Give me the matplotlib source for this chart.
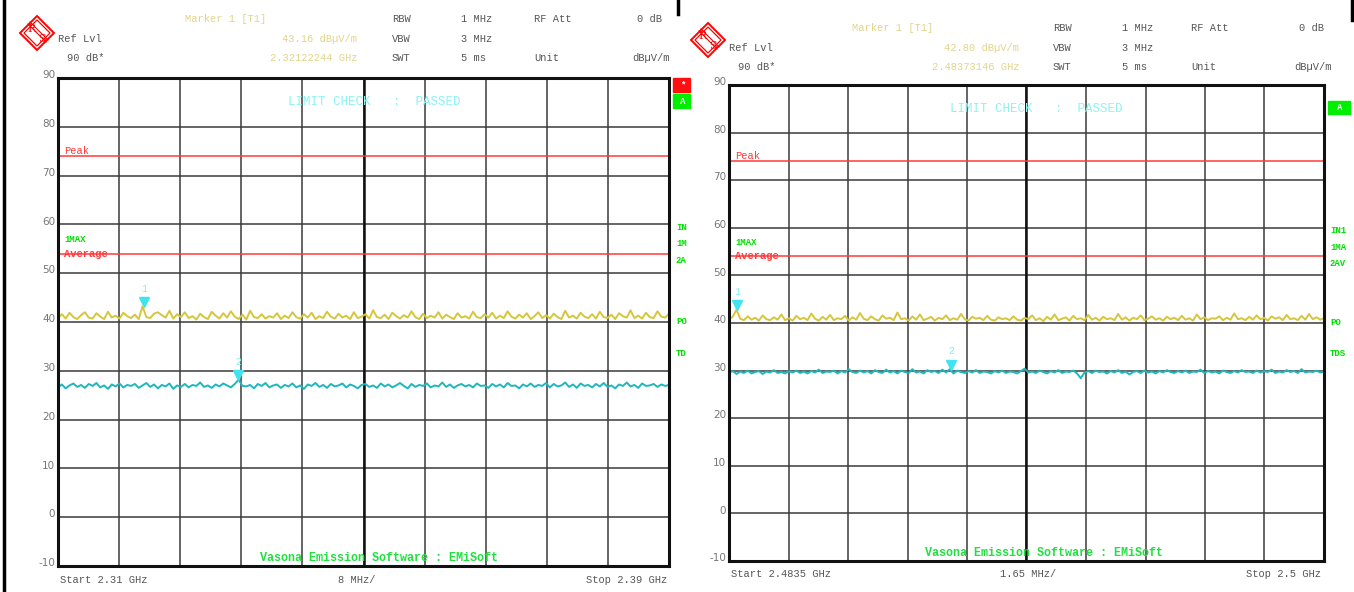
import numpy as np
import matplotlib
matplotlib.use("Agg")
import matplotlib.pyplot as plt
from matplotlib.patches import Polygon, Rectangle
from matplotlib.lines import Line2D

left_start, left_stop = 2.31, 2.39
right_start, right_stop = 2.4835, 2.5
peak_limit = 74.0
avg_limit = 54.0

left_max = [40.8, 41.6, 40.7, 41.9, 41.0, 40.6, 41.4, 42.0, 40.9, 40.7, 41.8, 41.1, 40.6, 42.1, 40.9, 41.3, 40.7, 41.9, 41.2, 40.8,
            41.5, 40.6, 43.2, 41.0, 40.8, 41.7, 42.0, 41.4, 40.9, 42.3, 40.7, 41.6, 41.0, 42.0, 40.8, 41.2, 40.5, 41.7, 41.0, 40.6,
            42.1, 41.3, 40.7, 41.8, 40.9, 42.2, 41.1, 40.6, 41.5, 40.5, 42.3, 41.0, 40.8, 41.6, 40.7, 41.2, 40.9, 41.8, 40.6, 41.3,
            40.8, 42.0, 41.0, 40.7, 41.6, 40.9, 41.9, 40.6, 41.2, 40.8, 42.1, 41.1, 40.7, 41.7, 40.9, 41.3, 40.6, 42.0, 40.8, 41.1,
            41.6, 40.7, 42.4, 41.0, 40.8, 41.5, 40.6, 41.9, 41.2, 40.7, 41.4, 40.9, 42.2, 41.0, 40.6, 41.7, 40.8, 41.3, 40.9, 42.0,
            40.7, 41.5, 41.0, 40.6, 41.8, 40.9, 41.2, 40.7, 42.1, 41.0, 40.8, 41.6, 40.9, 41.9, 40.7, 41.3, 40.8, 42.2, 41.1, 40.7,
            41.5, 40.9, 41.8, 40.6, 41.2, 42.0, 40.8, 41.4, 40.7, 41.7, 41.0, 40.6, 42.3, 40.9, 41.3, 40.7, 41.9, 41.1, 40.8, 41.6,
            40.7, 42.1, 41.0, 40.8, 41.5, 40.6, 41.8, 41.2, 40.9, 42.4, 40.8, 41.3, 40.7, 41.9, 41.0, 40.8, 42.2, 41.1, 40.9, 41.7]
left_avg = [26.6, 27.2, 26.4, 27.0, 27.4, 26.7, 27.1, 26.5, 27.3, 26.9, 27.5, 26.6, 27.0, 26.3, 27.2, 26.8, 27.4, 26.6, 27.1, 26.9,
            27.3, 26.5, 27.0, 27.5, 26.7, 27.2, 26.4, 27.1, 26.8, 27.4, 26.3, 27.0, 26.7, 27.3, 26.6, 27.1, 26.9, 27.6, 26.7, 27.0,
            26.5, 27.2, 26.8, 27.4, 27.0, 26.6, 27.3, 28.2, 26.9, 26.8, 27.1, 26.4, 27.3, 26.9, 27.5, 26.6, 27.0, 27.2, 26.5, 27.1,
            26.8, 27.4, 26.6, 27.0, 26.3, 27.2, 26.9, 27.5, 26.7, 27.1, 26.5, 27.3, 26.8, 27.0, 27.4, 26.6, 27.2, 26.9, 26.4, 27.1,
            27.3, 26.7, 27.0, 26.5, 27.4, 26.8, 27.2, 26.6, 27.0, 27.5, 26.9, 26.4, 27.3, 26.7, 27.1, 26.9, 27.4, 26.6, 27.0, 26.8,
            27.6, 26.7, 27.2, 26.5, 27.0, 27.3, 26.8, 27.1, 26.6, 27.4, 26.9, 27.0, 26.5, 27.3, 26.8, 27.2, 26.6, 27.5, 26.9, 27.0,
            26.4, 27.2, 26.8, 27.4, 26.7, 27.1, 26.9, 27.5, 26.6, 27.3, 26.8, 27.0, 27.6, 26.7, 27.2, 26.5, 27.4, 26.9, 27.1, 26.6,
            27.3, 26.8, 27.5, 26.7, 27.0, 26.4, 27.2, 26.9, 27.6, 26.8, 27.1, 26.5, 27.4, 26.9, 27.0, 27.3, 26.7, 27.2, 26.9, 27.1]
right_max = [40.8, 41.3, 42.8, 40.9, 40.6, 41.4, 40.7, 41.1, 40.5, 41.6, 40.8, 40.6, 41.2, 40.7, 41.8, 40.6, 41.0, 40.5, 41.5, 40.8,
             41.1, 40.6, 42.0, 40.9, 40.5, 41.3, 40.7, 41.7, 40.6, 41.0, 40.8, 41.5, 40.5, 41.2, 40.7, 42.1, 40.9, 40.6, 41.4, 40.8,
             40.5, 41.6, 40.9, 41.1, 40.6, 42.2, 40.8, 41.0, 40.5, 41.4, 40.7, 41.8, 40.6, 40.9, 41.3, 40.5, 41.1, 40.8, 41.6, 40.6,
             41.0, 40.7, 41.9, 40.8, 40.5, 41.3, 40.9, 41.1, 40.6, 41.5, 40.7, 40.5, 41.2, 40.8, 41.0, 40.6, 41.4, 40.7, 40.5, 41.1,
             40.8, 41.6, 40.6, 41.0, 40.4, 41.3, 40.7, 41.8, 40.6, 40.9, 41.2, 40.5, 41.5, 40.8, 41.0, 40.6, 41.7, 40.7, 41.1, 40.5,
             41.3, 40.8, 41.0, 40.6, 41.9, 40.7, 41.2, 40.5, 41.1, 40.8, 41.6, 40.6, 40.9, 41.4, 40.7, 41.0, 40.5, 41.3, 40.8, 41.1,
             40.6, 41.5, 40.7, 41.0, 40.5, 41.8, 40.8, 41.2, 40.6, 41.0, 40.9, 41.4, 40.6, 41.1, 40.7, 42.0, 40.8, 41.0, 40.6, 41.3,
             40.7, 41.6, 40.8, 41.1, 40.5, 41.4, 40.9, 41.2, 40.6, 41.7, 40.8, 41.0, 40.6, 41.5, 40.7, 41.9, 40.8, 41.2, 40.7, 41.0]
right_avg = [29.6, 29.9, 29.3, 29.8, 29.5, 30.0, 29.4, 29.7, 29.9, 29.3, 29.8, 29.6, 30.1, 29.5, 29.7, 29.4, 29.9, 29.6, 30.0, 29.5,
             29.8, 29.4, 29.9, 29.6, 30.2, 29.5, 29.8, 29.7, 30.0, 29.4, 29.9, 29.6, 30.3, 29.7, 29.5, 30.0, 29.6, 29.9, 29.4, 30.1,
             29.7, 29.5, 30.2, 29.6, 29.9, 29.4, 30.0, 29.7, 29.5, 30.3, 29.6, 29.8, 29.4, 30.1, 29.7, 29.9, 29.5, 30.2, 29.6, 30.3,
             29.4, 30.0, 29.7, 29.5, 29.9, 29.6, 30.1, 29.5, 29.8, 29.7, 29.4, 29.9, 29.6, 30.0, 29.5, 29.8, 29.7, 29.4, 29.9, 30.4,
             29.6, 29.8, 29.5, 30.0, 29.7, 29.4, 29.9, 29.6, 30.1, 29.5, 29.8, 29.7, 30.0, 29.4, 28.4, 29.6, 29.9, 29.5, 30.0, 29.7,
             29.8, 29.4, 29.9, 29.6, 30.1, 29.5, 29.8, 29.2, 29.7, 29.9, 29.5, 30.0, 29.6, 29.8, 29.4, 29.9, 29.6, 30.1, 29.7, 29.5,
             29.9, 29.6, 30.0, 29.5, 29.8, 29.7, 30.2, 29.5, 29.9, 29.6, 29.8, 29.4, 30.0, 29.7, 29.5, 29.9, 29.6, 30.1, 29.7, 29.8,
             29.5, 30.0, 29.6, 29.9, 29.7, 30.2, 29.5, 29.8, 29.6, 30.1, 29.7, 29.9, 29.5, 30.3, 29.6, 29.8, 29.7, 30.0, 29.6, 29.8]
left_markers = [(2.32122244, 43.16), (2.3336, 28.2)]
right_markers = [(2.48373146, 42.80), (2.48966, 30.3)]

W, H = 1354, 592
MONO = "Liberation Mono"
GRAY = "#555555"
TICK_GRAY = "#777777"
YEL = "#d6c63c"
CYAN = "#1fb6bd"
HDR_YEL = "#e2d48a"
GREEN = "#00e000"
RED = "#ff3a3a"

fig = plt.figure(figsize=(W / 100, H / 100), dpi=100)
fig.patch.set_facecolor("white")


def ftext(x, y, s, **kw):
    kw.setdefault("family", MONO)
    kw.setdefault("fontsize", 7.5)
    kw.setdefault("va", "center")
    fig.text(x / W, 1 - y / H, s, **kw)


def fline(xs, ys, **kw):
    fig.add_artist(Line2D([x / W for x in xs], [1 - y / H for y in ys],
                          transform=fig.transFigure, **kw))


def logo(cx, cy):
    for r, lw in [(17, 1.4), (13, 0.9)]:
        pts = [(cx, cy - r), (cx + r, cy), (cx, cy + r), (cx - r, cy)]
        fig.add_artist(Polygon([(x / W, 1 - y / H) for x, y in pts], closed=True,
                               fill=False, ec="red", lw=lw, transform=fig.transFigure))
    fline([cx - 9, cx + 9], [cy - 9, cy + 9], color="red", lw=0.8)
    fline([cx - 7, cx + 11], [cy - 11, cy + 7], color="red", lw=0.8)
    ftext(cx - 5, cy - 4, "R", color="red", fontsize=8, ha="center", family="DejaVu Serif")
    ftext(cx + 5, cy + 6, "S", color="red", fontsize=8, ha="center", family="DejaVu Serif")


def panel(box, f0, f1, tr_max, tr_avg, markers):
    ax = fig.add_axes(box)
    x = np.linspace(f0, f1, len(tr_max))
    ax.set_xlim(f0, f1)
    ax.set_ylim(-10, 90)
    ax.set_xticks(np.linspace(f0, f1, 11))
    ax.set_yticks(np.arange(-10, 91, 10))
    ax.tick_params(length=0, labelbottom=False, labelleft=False)
    ax.grid(True, color="#3a3a3a", lw=1.1)
    ax.axvline((f0 + f1) / 2, color="#111111", lw=1.8)
    for s in ax.spines.values():
        s.set_linewidth(2.2)
        s.set_color("#111111")
    ax.axhline(peak_limit, color=RED, lw=1.1)
    ax.axhline(avg_limit, color=RED, lw=1.1)
    ax.plot(x, tr_max, color=YEL, lw=1.4)
    ax.plot(x, tr_avg, color=CYAN, lw=1.4)
    for i, (mf, mv) in enumerate(markers):
        ax.plot(mf, mv + 0.9, marker="v", color="#40e4f0", ms=6.5, mec="#40e4f0")
        ax.annotate(str(i + 1), (mf, mv), xytext=(0, 13), textcoords="offset points",
                    ha="center", va="center", color="#80f0f0", fontsize=7, family=MONO)
    ax.text(0.01, (peak_limit + 10) / 100, "Peak", transform=ax.transAxes, color=RED,
            fontsize=7.5, family=MONO, va="bottom")
    ax.text(0.01, (avg_limit + 10) / 100, "Average", transform=ax.transAxes, color=RED,
            fontsize=7.5, family=MONO, va="center", weight="bold")
    ax.text(0.01, (avg_limit + 10) / 100 + 0.02, "1MAX", transform=ax.transAxes, color=GREEN,
            fontsize=6.5, family=MONO, va="bottom", weight="bold")
    ax.text(0.33, 0.016, "Vasona Emission Software : EMiSoft", transform=ax.transAxes,
            color="#20e040", fontsize=8.5, family=MONO, weight="bold", va="center", ha="left")
    ax.text(0.517, 0.95, "LIMIT CHECK   :  PASSED", transform=ax.transAxes, color="#8ef2f2",
            fontsize=9, family=MONO, va="center", ha="center")
    for v in range(-10, 91, 10):
        ax.annotate(str(v), (0, (v + 10) / 100), xycoords="axes fraction", xytext=(-2, 2),
                    textcoords="offset points", ha="right", va="center", color=TICK_GRAY,
                    fontsize=7.5, family="DejaVu Sans")
    return ax


panel([58 / W, 26 / H, 611 / W, 488 / H], left_start, left_stop, left_max, left_avg, left_markers)
panel([729 / W, 31 / H, 595 / W, 476 / H], right_start, right_stop, right_max, right_avg, right_markers)


def header(x0, y0, mk_lvl, mk_freq, x_end, x_mid, x_rbw, x_val, x_att, x_right):
    ftext(x_mid, y0, "Marker 1 [T1]", color=HDR_YEL)
    ftext(x_rbw, y0, "RBW", color=GRAY)
    ftext(x_val, y0, "1 MHz", color=GRAY)
    ftext(x_att, y0, "RF Att", color=GRAY)
    ftext(x_right, y0, "0 dB", color=GRAY, ha="right")
    ftext(x0, y0 + 20, "Ref Lvl", color=GRAY)
    ftext(x_end, y0 + 20, mk_lvl, color=HDR_YEL, ha="right")
    ftext(x_rbw, y0 + 20, "VBW", color=GRAY)
    ftext(x_val, y0 + 20, "3 MHz", color=GRAY)
    ftext(x0 + 9, y0 + 39, "90 dB*", color=GRAY)
    ftext(x_end, y0 + 39, mk_freq, color=HDR_YEL, ha="right")
    ftext(x_rbw, y0 + 39, "SWT", color=GRAY)
    ftext(x_val, y0 + 39, "5 ms", color=GRAY)
    ftext(x_att, y0 + 39, "Unit", color=GRAY)
    ftext(x_right + 8, y0 + 39, "dBµV/m", color=GRAY, ha="right")


header(58, 19, "43.16 dBµV/m", "2.32122244 GHz", 357, 185, 392, 461, 534, 662)
header(729, 28, "42.80 dBµV/m", "2.48373146 GHz", 1019, 852, 1053, 1122, 1191, 1324)
logo(37, 33)
logo(708, 40)

ftext(60, 580, "Start 2.31 GHz", color=GRAY)
ftext(357, 580, "8 MHz/", color=GRAY, ha="center")
ftext(667, 580, "Stop 2.39 GHz", color=GRAY, ha="right")
ftext(731, 574, "Start 2.4835 GHz", color=GRAY)
ftext(1028, 574, "1.65 MHz/", color=GRAY, ha="center")
ftext(1321, 574, "Stop 2.5 GHz", color=GRAY, ha="right")


def box(x, y, w, h, color, s):
    fig.add_artist(Rectangle((x / W, 1 - (y + h) / H), w / W, h / H, color=color,
                             transform=fig.transFigure))
    ftext(x + w / 2 + 1, y + h / 2, s, color="white", ha="center", fontsize=6.5, weight="bold")


box(673, 78, 17, 14, "#ff1010", "*")
box(673, 94, 17, 14, "#00ee00", "A")
box(1328, 101, 22, 13, "#00ee00", "A")
for s, y in [("IN", 228), ("1M", 244), ("2A", 260), ("PO", 321), ("TD", 353)]:
    ftext(676, y, s, color=GREEN, fontsize=6.5, weight="bold")
for s, y in [("IN1", 231), ("1MA", 247), ("2AV", 263), ("PO", 322), ("TDS", 353)]:
    ftext(1330, y, s, color=GREEN, fontsize=6.5, weight="bold")

# page border bits
fline([4, 4], [0, 592], color="black", lw=2.5)
fline([678, 678], [0, 14], color="black", lw=2.5)
fline([1352, 1352], [0, 20], color="black", lw=2.5)

fig.savefig("out.png", dpi=100, facecolor="white")
